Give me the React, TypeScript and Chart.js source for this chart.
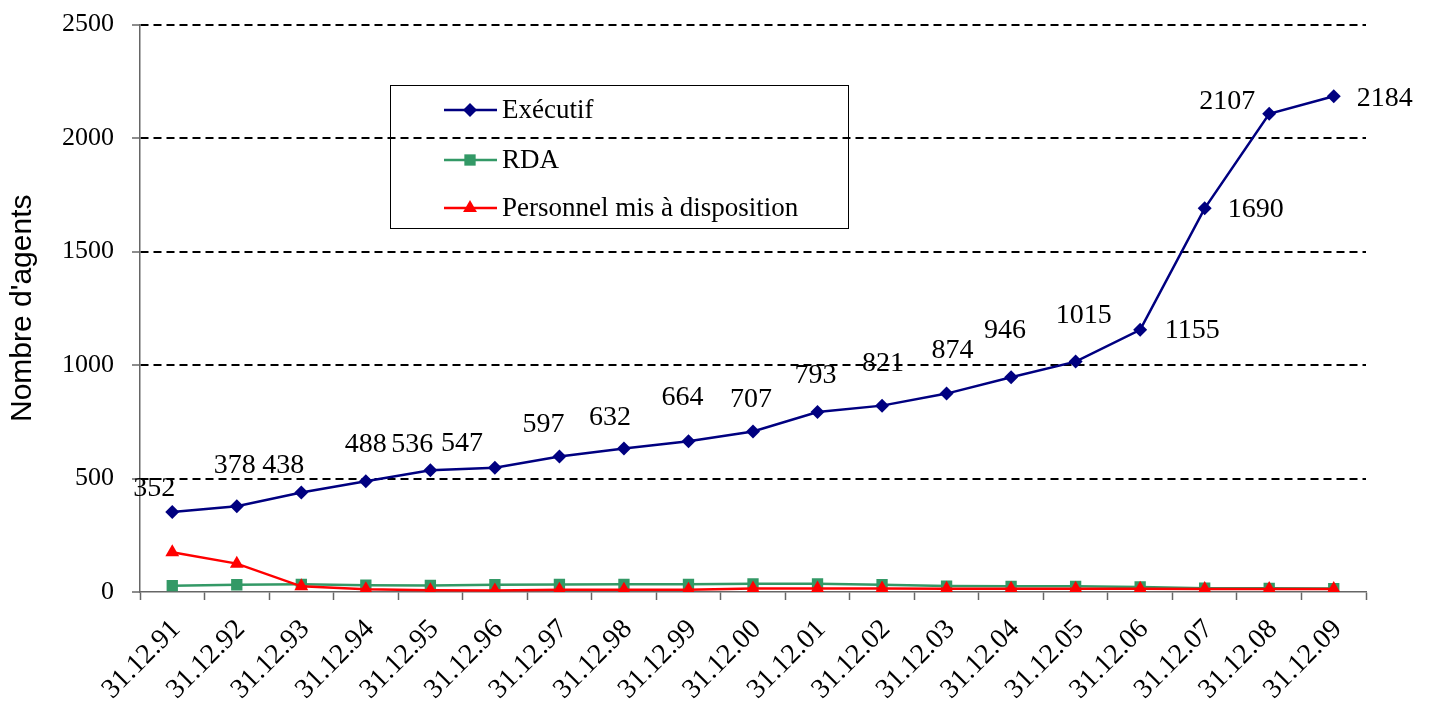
import React, { useEffect, useRef } from 'react';
import { Chart, registerables } from 'chart.js';

Chart.register(...registerables);

const categories = [
  '31.12.91', '31.12.92', '31.12.93', '31.12.94', '31.12.95', '31.12.96', '31.12.97',
  '31.12.98', '31.12.99', '31.12.00', '31.12.01', '31.12.02', '31.12.03', '31.12.04',
  '31.12.05', '31.12.06', '31.12.07', '31.12.08', '31.12.09',
];
const executif = [352, 378, 438, 488, 536, 547, 597, 632, 664, 707, 793, 821, 874, 946, 1015, 1155, 1690, 2107, 2184];
const rda = [28, 32, 34, 30, 29, 32, 33, 34, 34, 36, 36, 32, 26, 25, 25, 22, 17, 16, 15];
const personnel = [175, 125, 25, 12, 8, 7, 10, 10, 10, 15, 15, 15, 14, 14, 14, 14, 13, 13, 13];
const yTickValues = [0, 500, 1000, 1500, 2000, 2500];
const seriesNames = ['Exécutif', 'RDA', 'Personnel mis à disposition'];
const yTitle = "Nombre d'agents";

// pixel offsets (dx, dy) of each Exécutif value label relative to its point
const labelOffsets: [number, number][] = [
  [-18, -23], [-2, -41], [-18, -27], [0, -37], [-18, -26], [-33, -24], [-16, -32],
  [-14, -31], [-6, -44], [-2, -32], [-2, -36], [1, -42], [6, -43], [-6, -47],
  [8, -46], [52, 1], [51, 1], [-42, -12], [51, 2],
];

const SERIF = "'Liberation Serif', 'Times New Roman', serif";
const SANS = "'Liberation Sans', Arial, sans-serif";

const valueLabels = {
  id: 'valueLabels',
  afterDatasetsDraw(chart: any) {
    const ctx = chart.ctx;
    const meta = chart.getDatasetMeta(0);
    ctx.save();
    ctx.font = `28px ${SERIF}`;
    ctx.fillStyle = '#000';
    ctx.textAlign = 'center';
    ctx.textBaseline = 'middle';
    meta.data.forEach((pt: any, i: number) => {
      const [dx, dy] = labelOffsets[i] || [0, -30];
      ctx.fillText(String(executif[i]), pt.x + dx, pt.y + dy);
    });
    ctx.restore();
  },
};

function drawMarker(ctx: CanvasRenderingContext2D, style: string, r: number, x: number, y: number) {
  ctx.beginPath();
  if (style === 'rectRot') {
    ctx.moveTo(x, y - r); ctx.lineTo(x + r, y); ctx.lineTo(x, y + r); ctx.lineTo(x - r, y);
  } else if (style === 'rect') {
    const s = r * Math.SQRT1_2;
    ctx.rect(x - s, y - s, 2 * s, 2 * s);
  } else {
    ctx.moveTo(x, y - r); ctx.lineTo(x + r * 0.866, y + r / 2); ctx.lineTo(x - r * 0.866, y + r / 2);
  }
  ctx.closePath();
  ctx.fill();
}

const legendPlugin = {
  id: 'legendBox',
  afterDraw(chart: any) {
    const ctx = chart.ctx;
    const bx = 390, by = 85, bw = 458, bh = 143;
    ctx.save();
    ctx.strokeStyle = '#000';
    ctx.lineWidth = 1;
    ctx.strokeRect(bx + 0.5, by + 0.5, bw, bh);
    const rows = [110, 160, 208];
    chart.data.datasets.forEach((ds: any, i: number) => {
      const y = rows[i];
      ctx.strokeStyle = ds.borderColor;
      ctx.lineWidth = 2.5;
      ctx.beginPath();
      ctx.moveTo(444, y);
      ctx.lineTo(497, y);
      ctx.stroke();
      ctx.fillStyle = ds.pointBackgroundColor;
      drawMarker(ctx, ds.pointStyle, ds.pointRadius, 470, y);
      ctx.fillStyle = '#000';
      ctx.font = `27px ${SERIF}`;
      ctx.textAlign = 'left';
      ctx.textBaseline = 'middle';
      ctx.fillText(ds.label, 502, y + 1);
    });
    ctx.restore();
  },
};

export default function App() {
  const ref = useRef<HTMLCanvasElement>(null);
  useEffect(() => {
    document.body.style.margin = '0';
    const chart = new Chart(ref.current as HTMLCanvasElement, {
      type: 'line',
      data: {
        labels: categories,
        datasets: [
          {
            label: seriesNames[0], data: executif, borderColor: '#000080', backgroundColor: '#000080',
            pointBackgroundColor: '#000080', pointBorderColor: '#000080', pointStyle: 'rectRot',
            pointRadius: 7, pointBorderWidth: 0, borderWidth: 2.5, tension: 0, order: 0,
          } as any,
          {
            label: seriesNames[1], data: rda, borderColor: '#339966', backgroundColor: '#339966',
            pointBackgroundColor: '#339966', pointBorderColor: '#339966', pointStyle: 'rect',
            pointRadius: 8, pointBorderWidth: 0, borderWidth: 2.5, tension: 0, order: 2,
          } as any,
          {
            label: seriesNames[2], data: personnel, borderColor: '#FF0000', backgroundColor: '#FF0000',
            pointBackgroundColor: '#FF0000', pointBorderColor: '#FF0000', pointStyle: 'triangle',
            pointRadius: 8, pointBorderWidth: 0, borderWidth: 2.5, tension: 0, order: 1,
          } as any,
        ],
      },
      options: {
        responsive: false,
        animation: false,
        layout: { padding: { top: 0, right: 66, left: 0, bottom: 0 } },
        plugins: { legend: { display: false }, tooltip: { enabled: false } },
        scales: {
          x: {
            type: 'category',
            offset: true,
            grid: { display: true, drawOnChartArea: false, drawTicks: true, tickLength: 8, tickColor: '#666', tickWidth: 1.5, offset: true },
            border: { display: true, color: '#666', width: 1.5 },
            ticks: { maxRotation: 45, minRotation: 45, autoSkip: false, color: '#000', font: { family: SERIF, size: 28 }, padding: 13, labelOffset: 4 },
            afterFit: (axis: any) => { axis.height = 110; },
          },
          y: {
            min: 0,
            max: 2500,
            afterBuildTicks: (axis: any) => { axis.ticks = yTickValues.map((v) => ({ value: v })); },
            ticks: { color: '#000', font: { family: SERIF, size: 26, lineHeight: 0.5 }, padding: 18, callback: (v: any) => String(v) },
            grid: {
              color: (c: any) => (c.tick && c.tick.value === 0 ? 'rgba(0,0,0,0)' : '#000'),
              lineWidth: 2,
              tickColor: '#666',
              tickLength: 8,
              tickWidth: 1.5,
            },
            border: { display: true, color: '#666', width: 1.5, dash: [8, 5] },
            title: { display: true, text: yTitle, color: '#000', font: { family: SANS, size: 30 }, padding: { top: 5, bottom: 0 } },
            afterFit: (axis: any) => { axis.width = 140; },
          },
        },
      } as any,
      plugins: [valueLabels, legendPlugin],
    });
    return () => chart.destroy();
  }, []);
  return <canvas ref={ref} width={1432} height={702} style={{ display: 'block' }} />;
}
